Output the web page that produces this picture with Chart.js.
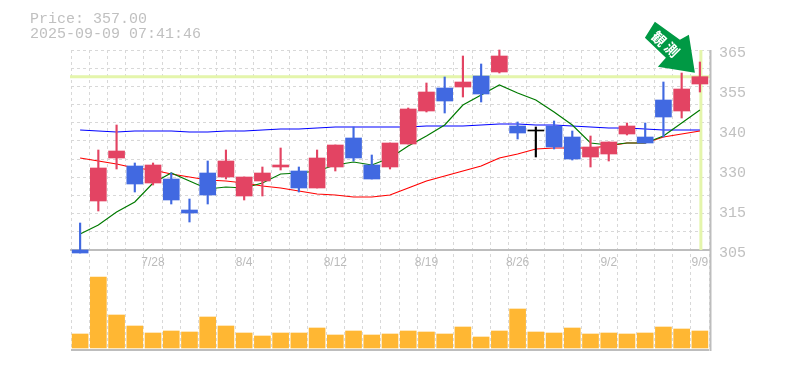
<!DOCTYPE html>
<html>
<head>
<meta charset="utf-8">
<style>
  html, body { margin: 0; padding: 0; background: #fff; }
  canvas { display: block; }
</style>
<script src="https://cdn.jsdelivr.net/npm/chart.js@4/dist/chart.umd.min.js"></script>
</head>
<body>
<canvas id="myChart" width="785" height="370"></canvas>
<script>
const dates = ['7/22','7/23','7/24','7/25','7/28','7/29','7/30','7/31','8/1','8/4','8/5','8/6','8/7','8/8','8/12','8/13','8/14','8/15','8/18','8/19','8/20','8/21','8/22','8/25','8/26','8/27','8/28','8/29','9/1','9/2','9/3','9/4','9/5','9/8','9/9'];
const shownDates = ['7/28','8/4','8/12','8/19','8/26','9/2','9/9'];

const opens  = [305,319.7,332.6,330.2,325.1,326.3,317,328.1,326.9,321.2,325.7,329.9,328.7,323.6,329.9,338.6,330.5,329.9,336.8,346.7,353.6,353.9,357.2,358.4,342.2,340.7,342.2,338.9,332.9,333.8,339.8,338.9,350,346.7,354.8];
const closes = [304.1,329.6,334.7,324.8,330.5,320,316.1,321.5,331.7,326.9,328.1,330.5,323.6,332.6,336.5,332.6,326.3,337.1,347.3,352.4,349.7,355.4,351.8,363.2,340.1,340.7,335.9,332.3,335.9,337.4,342.2,337.1,344.9,353.3,357];
const highs  = [313.1,335,342.5,331.1,331.1,328.1,320.3,331.7,335,326.9,329.9,335.6,329.9,335,336.5,341.9,333.5,337.1,347.6,355.1,356.9,363.2,360.8,365,343.4,341.9,343.7,340.7,339.2,337.4,343.1,343.1,355.4,358.1,361.4];
const lows   = [304.1,316.7,329.3,322.4,324.5,318.8,313.4,318.8,326.3,320,321.2,329,322.4,323.6,328.7,331.7,326.3,329.3,336.8,346.4,346.1,350.9,349.4,358.1,338.3,332.9,335.3,332,329.9,331.7,339.5,337.1,338.9,344.6,352.4];

const ma5  = [309.8,312.5,316.4,319.4,325.1,328.1,325.7,323.3,323.9,323.6,325.1,327.8,328.1,328.7,330.5,331.4,330.5,332.6,336.2,339.2,342.5,348.5,351.5,354.5,352.1,350,346.4,342.5,337.1,336.5,337.1,337.1,339.2,343.1,347];
const ma25 = [332.6,331.7,330.8,329.6,329,327.8,326.9,326,325.7,325.1,324.2,323.6,322.7,321.8,321.5,320.9,320.9,321.5,323.6,325.7,327.2,328.7,330.2,332.6,333.8,335.3,335.6,335.6,335.6,336.2,337.1,337.1,338.9,339.8,340.7];
const ma75 = [341,340.7,340.4,340.7,340.7,340.7,340.4,340.4,340.7,340.7,341,341.3,341.3,341.6,341.9,341.9,341.9,341.9,341.9,342.2,342.2,342.2,342.5,342.8,342.8,342.5,342.5,342.2,341.9,341.6,341.6,341.3,341,341,341];
const volumes = [14,71,33,22,15,17,16,31,22,15,12,15,15,20,13,17,13,14,17,16,14,21,11,17,39,16,15,20,14,15,14,15,21,19,17];

const priceTickValues = [365,353,341,329,317,305];
const priceTickLabels = ['365','355','340','330','315','305'];
const priceGridCount = 11;
const currentPrice = 357;
const titleLines = ['Price: 357.00', '2025-09-09 07:41:46'];
const arrowWords = ['観', '測'];

const UP = '#e34463';
const DOWN = '#4169e1';
const GRID = '#d8d8d8';
const FRAME = '#bdbdbd';
const TEXT = '#c0c0c0';
const HILITE = '#e4f5ab';
const MONO = '"Liberation Mono", monospace';

const candleColor = (i) => closes[i] > opens[i] ? UP : closes[i] < opens[i] ? DOWN : '#000';
const candleColors = dates.map((_, i) => candleColor(i));

const priceGrid = [];
for (let k = 0; k <= priceGridCount; k++) priceGrid.push(365 - k * 60 / priceGridCount);

// current price cross sits under the candles, arrow and header on top of everything
const overlay = {
  id: 'overlay',
  beforeDatasetsDraw(chart) {
    const { ctx, chartArea, scales } = chart;
    const py = scales.y.getPixelForValue(currentPrice);
    const lx = scales.x.getPixelForValue(dates.length - 1);
    ctx.save();
    ctx.strokeStyle = HILITE;
    ctx.lineWidth = 3;
    ctx.beginPath();
    ctx.moveTo(chartArea.left - 1, py);
    ctx.lineTo(chartArea.right + 1, py);
    ctx.moveTo(lx + 1, scales.y.top);
    ctx.lineTo(lx + 1, scales.y.bottom);
    ctx.stroke();
    ctx.restore();
  },
  afterDraw(chart) {
    const { ctx, chartArea, scales } = chart;
    ctx.save();
    ctx.strokeStyle = FRAME;
    ctx.lineWidth = 2;
    ctx.beginPath();
    ctx.moveTo(chartArea.right + 1.5, chartArea.top);
    ctx.lineTo(chartArea.right + 1.5, chartArea.bottom + 1);
    ctx.stroke();
    ctx.restore();

    const tipX = scales.x.getPixelForValue(dates.length - 1) - 5;
    const tipY = scales.y.getPixelForValue(currentPrice) - 4;
    const shape = [[0,0],[-37,-6],[-29,-15],[-50,-35],[-40,-51],[-15,-33],[-6,-38]];
    ctx.save();
    ctx.fillStyle = '#009944';
    ctx.beginPath();
    shape.forEach(([dx, dy], i) => i ? ctx.lineTo(tipX + dx, tipY + dy) : ctx.moveTo(tipX + dx, tipY + dy));
    ctx.closePath();
    ctx.fill();
    ctx.fillStyle = '#fff';
    ctx.font = 'bold 14px "Noto Sans CJK JP"';
    ctx.textAlign = 'center';
    ctx.textBaseline = 'middle';
    [[-36,-34],[-23,-23]].forEach(([dx, dy], i) => {
      ctx.save();
      ctx.translate(tipX + dx, tipY + dy);
      ctx.rotate(Math.PI / 4);
      ctx.fillText(arrowWords[i], 0, 0);
      ctx.restore();
    });
    ctx.restore();

    ctx.save();
    ctx.fillStyle = TEXT;
    ctx.font = '15px ' + MONO;
    ctx.textAlign = 'left';
    ctx.textBaseline = 'alphabetic';
    titleLines.forEach((line, i) => ctx.fillText(line, 30, 23 + i * 15));
    ctx.restore();
  }
};

new Chart(document.getElementById('myChart').getContext('2d'), {
  type: 'bar',
  plugins: [overlay],
  data: {
    labels: dates,
    datasets: [
      { type: 'line', data: ma75, borderColor: '#0000ff', borderWidth: 1.2, pointRadius: 0, tension: 0, yAxisID: 'y', order: 5 },
      { type: 'line', data: ma25, borderColor: '#ff0000', borderWidth: 1.2, pointRadius: 0, tension: 0, yAxisID: 'y', order: 4 },
      { type: 'line', data: ma5, borderColor: '#007a00', borderWidth: 1.2, pointRadius: 0, tension: 0, yAxisID: 'y', order: 3 },
      { data: lows.map((l, i) => [l, highs[i]]), backgroundColor: candleColors, barThickness: 1.5, grouped: false, yAxisID: 'y', order: 2, clip: false },
      { data: opens.map((o, i) => [o, closes[i]]), backgroundColor: candleColors, barThickness: 16, minBarLength: 1, grouped: false, yAxisID: 'y', order: 1, clip: false },
      { data: volumes, backgroundColor: '#ffb733', barThickness: 16, grouped: false, yAxisID: 'yVol', order: 1 }
    ]
  },
  options: {
    responsive: false,
    animation: false,
    layout: { padding: { left: 71, top: 50, bottom: 20, right: 0 } },
    plugins: { legend: { display: false }, tooltip: { enabled: false }, title: { display: false } },
    scales: {
      x: {
        type: 'category',
        position: { yVol: 98 },
        offset: true,
        afterFit(scale) { scale.height = 0; },
        grid: { offset: true, color: GRID, drawTicks: false, tickLength: 0 },
        border: { display: true, color: FRAME, width: 2, dash: [3, 3] },
        ticks: {
          autoSkip: false,
          maxRotation: 0,
          padding: 5,
          color: '#bbb',
          font: { family: '"Liberation Sans"', size: 12 },
          callback(value) {
            const label = dates[value];
            return shownDates.includes(label) ? label : '';
          }
        }
      },
      y: {
        position: 'right',
        stack: 'panels',
        stackWeight: 2,
        min: 305,
        max: 365,
        afterFit(scale) { scale.width = 76; },
        afterBuildTicks(scale) {
          const vals = priceGrid.concat(priceTickValues.filter((v) => !priceGrid.includes(v)));
          scale.ticks = vals.map((value) => ({ value }));
        },
        grid: {
          drawTicks: false,
          color: (c) => priceGrid.includes(c.tick.value) ? GRID : 'transparent'
        },
        border: { display: false, dash: [3, 3] },
        ticks: {
          autoSkip: false,
          padding: 10,
          labelOffset: 3,
          color: TEXT,
          font: { family: MONO, size: 15 },
          callback(value) {
            const i = priceTickValues.indexOf(value);
            return i < 0 ? '' : priceTickLabels[i];
          }
        }
      },
      yVol: {
        position: 'right',
        stack: 'panels',
        stackWeight: 1,
        min: -2,
        max: 98,
        afterFit(scale) { scale.width = 76; },
        afterBuildTicks(scale) { scale.ticks = [{ value: -2 }]; },
        grid: { drawTicks: false, color: FRAME, lineWidth: 2 },
        border: { display: false },
        ticks: { display: false }
      }
    }
  }
});
</script>
</body>
</html>
